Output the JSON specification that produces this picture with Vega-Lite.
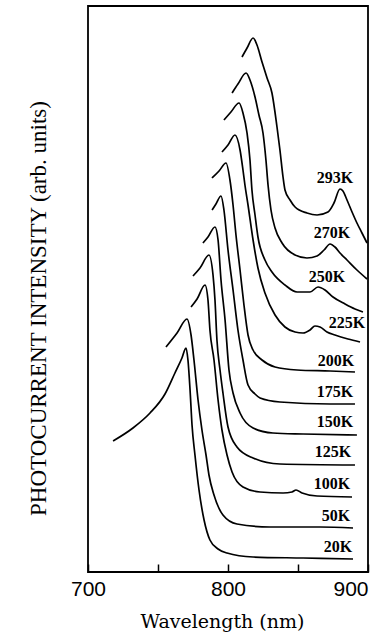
{
  "$schema": "https://vega.github.io/schema/vega-lite/v6.json",
  "autosize": "none",
  "width": 280,
  "height": 566,
  "padding": {"left": 88, "top": 6, "right": 5, "bottom": 60},
  "background": "white",
  "config": {
    "view": {"stroke": "black", "strokeWidth": 1.8},
    "axis": {"grid": false}
  },
  "datasets": {
    "curves": [
      {"T":"20K","w":717.9,"v":131},{"T":"20K","w":732.1,"v":144},{"T":"20K","w":744.3,"v":159},{"T":"20K","w":755,"v":178},{"T":"20K","w":762.1,"v":199},{"T":"20K","w":767.1,"v":214},{"T":"20K","w":770,"v":224},{"T":"20K","w":771.4,"v":212},{"T":"20K","w":772.9,"v":182},{"T":"20K","w":774.3,"v":147},{"T":"20K","w":776.4,"v":117},{"T":"20K","w":779.3,"v":82},{"T":"20K","w":782.9,"v":52},{"T":"20K","w":787.1,"v":32},{"T":"20K","w":792.9,"v":23},{"T":"20K","w":799.3,"v":19},{"T":"20K","w":817.9,"v":15},{"T":"20K","w":853.6,"v":14},{"T":"20K","w":889.3,"v":13},
      {"T":"50K","w":755.7,"v":225},{"T":"50K","w":763.6,"v":239},{"T":"50K","w":770.7,"v":253},{"T":"50K","w":773.6,"v":237},{"T":"50K","w":775.7,"v":212},{"T":"50K","w":778.6,"v":172},{"T":"50K","w":781.4,"v":142},{"T":"50K","w":784.3,"v":117},{"T":"50K","w":786.4,"v":97},{"T":"50K","w":790,"v":77},{"T":"50K","w":796.4,"v":57},{"T":"50K","w":806.4,"v":48},{"T":"50K","w":830,"v":45},{"T":"50K","w":865.7,"v":45},{"T":"50K","w":889.3,"v":44},
      {"T":"100K","w":773.6,"v":265},{"T":"100K","w":777.9,"v":273},{"T":"100K","w":783.6,"v":287},{"T":"100K","w":785.7,"v":272},{"T":"100K","w":787.1,"v":242},{"T":"100K","w":790,"v":212},{"T":"100K","w":792.9,"v":172},{"T":"100K","w":795.7,"v":142},{"T":"100K","w":799.3,"v":117},{"T":"100K","w":802.9,"v":100},{"T":"100K","w":810.7,"v":85},{"T":"100K","w":822.9,"v":80},{"T":"100K","w":839.3,"v":79},{"T":"100K","w":845.7,"v":80},{"T":"100K","w":848.6,"v":82},{"T":"100K","w":852.9,"v":79},{"T":"100K","w":863.6,"v":76},{"T":"100K","w":888.6,"v":75},
      {"T":"125K","w":775,"v":296},{"T":"125K","w":780,"v":304},{"T":"125K","w":786.4,"v":317},{"T":"125K","w":789.3,"v":297},{"T":"125K","w":790.7,"v":272},{"T":"125K","w":792.1,"v":232},{"T":"125K","w":794.3,"v":202},{"T":"125K","w":796.4,"v":179},{"T":"125K","w":800,"v":145},{"T":"125K","w":806.4,"v":125},{"T":"125K","w":817.9,"v":114},{"T":"125K","w":837.1,"v":108},{"T":"125K","w":890.7,"v":107},
      {"T":"150K","w":782.1,"v":329},{"T":"150K","w":785.7,"v":335},{"T":"150K","w":790.7,"v":345},{"T":"150K","w":792.9,"v":332},{"T":"150K","w":795,"v":292},{"T":"150K","w":797.9,"v":252},{"T":"150K","w":800.7,"v":202},{"T":"150K","w":803.6,"v":179},{"T":"150K","w":808.6,"v":159},{"T":"150K","w":817.9,"v":144},{"T":"150K","w":832.1,"v":139},{"T":"150K","w":853.6,"v":138},{"T":"150K","w":892.1,"v":137},
      {"T":"175K","w":788.6,"v":362},{"T":"175K","w":791.4,"v":368},{"T":"175K","w":795,"v":376},{"T":"175K","w":797.1,"v":362},{"T":"175K","w":800,"v":322},{"T":"175K","w":803.6,"v":282},{"T":"175K","w":807.1,"v":242},{"T":"175K","w":810.7,"v":212},{"T":"175K","w":814.3,"v":187},{"T":"175K","w":819.3,"v":178},{"T":"175K","w":822.9,"v":174},{"T":"175K","w":837.1,"v":170},{"T":"175K","w":872.9,"v":168},{"T":"175K","w":890.7,"v":168},
      {"T":"200K","w":788.6,"v":394},{"T":"200K","w":793.6,"v":401},{"T":"200K","w":798.6,"v":409},{"T":"200K","w":801.4,"v":392},{"T":"200K","w":803.6,"v":367},{"T":"200K","w":805.7,"v":337},{"T":"200K","w":808.6,"v":302},{"T":"200K","w":811.4,"v":267},{"T":"200K","w":814.3,"v":237},{"T":"200K","w":817.9,"v":222},{"T":"200K","w":824.3,"v":212},{"T":"200K","w":833.6,"v":205},{"T":"200K","w":849.3,"v":202},{"T":"200K","w":872.9,"v":201},{"T":"200K","w":890.7,"v":200},
      {"T":"225K","w":795.7,"v":420},{"T":"225K","w":800,"v":427},{"T":"225K","w":805,"v":437},{"T":"225K","w":808.6,"v":422},{"T":"225K","w":810.7,"v":402},{"T":"225K","w":812.1,"v":387},{"T":"225K","w":814.3,"v":367},{"T":"225K","w":817.9,"v":332},{"T":"225K","w":821.4,"v":304},{"T":"225K","w":826.4,"v":279},{"T":"225K","w":833.6,"v":257},{"T":"225K","w":840.7,"v":245},{"T":"225K","w":847.9,"v":240},{"T":"225K","w":853.6,"v":239},{"T":"225K","w":858.6,"v":242},{"T":"225K","w":862.1,"v":246},{"T":"225K","w":865.7,"v":245},{"T":"225K","w":870.7,"v":240},{"T":"225K","w":876.4,"v":237},{"T":"225K","w":885.7,"v":233},{"T":"225K","w":894.3,"v":230},
      {"T":"250K","w":797.1,"v":452},{"T":"250K","w":802.1,"v":460},{"T":"250K","w":807.9,"v":469},{"T":"250K","w":810.7,"v":459},{"T":"250K","w":813.6,"v":439},{"T":"250K","w":815.7,"v":412},{"T":"250K","w":817.1,"v":382},{"T":"250K","w":819.3,"v":357},{"T":"250K","w":821.4,"v":335},{"T":"250K","w":826.4,"v":312},{"T":"250K","w":831.4,"v":300},{"T":"250K","w":840.7,"v":287},{"T":"250K","w":849.3,"v":280},{"T":"250K","w":858.6,"v":280},{"T":"250K","w":864.3,"v":285},{"T":"250K","w":869.3,"v":282},{"T":"250K","w":875,"v":275},{"T":"250K","w":883.6,"v":268},{"T":"250K","w":890.7,"v":263},{"T":"250K","w":896.4,"v":260},
      {"T":"270K","w":802.9,"v":479},{"T":"270K","w":807.1,"v":488},{"T":"270K","w":812.9,"v":499},{"T":"270K","w":815.7,"v":492},{"T":"270K","w":819.3,"v":475},{"T":"270K","w":822.1,"v":457},{"T":"270K","w":825,"v":439},{"T":"270K","w":827.1,"v":412},{"T":"270K","w":828.6,"v":387},{"T":"270K","w":830.7,"v":362},{"T":"270K","w":833.6,"v":344},{"T":"270K","w":838.6,"v":329},{"T":"270K","w":847.9,"v":317},{"T":"270K","w":856.4,"v":314},{"T":"270K","w":863.6,"v":316},{"T":"270K","w":868.6,"v":322},{"T":"270K","w":872.9,"v":328},{"T":"270K","w":876.4,"v":325},{"T":"270K","w":880,"v":319},{"T":"270K","w":885,"v":312},{"T":"270K","w":892.1,"v":302},{"T":"270K","w":899.3,"v":293},
      {"T":"293K","w":810,"v":515},{"T":"293K","w":813.6,"v":524},{"T":"293K","w":817.9,"v":534},{"T":"293K","w":820.7,"v":527},{"T":"293K","w":824.3,"v":510},{"T":"293K","w":827.9,"v":494},{"T":"293K","w":831.4,"v":479},{"T":"293K","w":835,"v":445},{"T":"293K","w":837.1,"v":422},{"T":"293K","w":839.3,"v":395},{"T":"293K","w":840.7,"v":382},{"T":"293K","w":844.3,"v":372},{"T":"293K","w":847.9,"v":365},{"T":"293K","w":856.4,"v":359},{"T":"293K","w":863.6,"v":357},{"T":"293K","w":871.4,"v":360},{"T":"293K","w":875.7,"v":369},{"T":"293K","w":880,"v":383},{"T":"293K","w":882.1,"v":381},{"T":"293K","w":885,"v":372},{"T":"293K","w":888.6,"v":360},{"T":"293K","w":892.1,"v":349},{"T":"293K","w":895.7,"v":339},{"T":"293K","w":899.3,"v":329}
    ],
    "labels": [
      {"T":"293K","w":876.4,"v":394},
      {"T":"270K","w":874.3,"v":339},
      {"T":"250K","w":870.7,"v":295},
      {"T":"225K","w":885,"v":249},
      {"T":"200K","w":877.1,"v":211},
      {"T":"175K","w":876.4,"v":180},
      {"T":"150K","w":876.4,"v":150},
      {"T":"125K","w":875,"v":120},
      {"T":"100K","w":874.3,"v":88},
      {"T":"50K","w":877.1,"v":56},
      {"T":"20K","w":878.6,"v":25}
    ]
  },
  "layer": [
    {
      "data": {"name": "curves"},
      "mark": {"type": "line", "interpolate": "monotone", "color": "black", "strokeWidth": 1.7},
      "encoding": {
        "detail": {"field": "T", "type": "nominal"},
        "x": {
          "field": "w", "type": "quantitative",
          "title": "Wavelength (nm)",
          "scale": {"domain": [700, 900], "nice": false, "zero": false},
          "axis": {
            "orient": "bottom",
            "domain": false,
            "offset": -8,
            "titleFont": "DejaVu Serif", "titleFontSize": 19, "titleFontWeight": "normal", "titleColor": "black",
            "titleX": 134, "titleY": 63, "titleBaseline": "alphabetic",
            "values": [700, 750, 800, 850, 900],
            "labelExpr": "datum.value % 100 == 0 ? datum.label : ''",
            "labelFont": "Liberation Sans", "labelFontSize": 21, "labelColor": "black",
            "labelBaseline": "top", "labelPadding": 6,
            "labelAlign": {"condition": {"test": "datum.value == 900", "value": "right"}, "value": "center"},
            "tickSize": 8, "tickColor": "black", "tickWidth": 1.5
          }
        },
        "y": {
          "field": "v", "type": "quantitative",
          "title": "PHOTOCURRENT INTENSITY (arb. units)",
          "scale": {"domain": [0, 566], "nice": false},
          "axis": {
            "domain": false,
            "titleFont": "Liberation Serif", "titleFontSize": 23, "titleFontWeight": "normal", "titleColor": "black",
            "titleX": -38, "titleY": 302,
            "labels": false, "ticks": false
          }
        }
      }
    },
    {
      "data": {"name": "labels"},
      "mark": {"type": "text", "font": "Liberation Serif", "fontSize": 16, "fontWeight": "bold", "color": "black", "align": "center", "baseline": "middle"},
      "encoding": {
        "text": {"field": "T"},
        "x": {"field": "w", "type": "quantitative", "title": "Wavelength (nm)"},
        "y": {"field": "v", "type": "quantitative", "title": "PHOTOCURRENT INTENSITY (arb. units)"}
      }
    }
  ]
}
